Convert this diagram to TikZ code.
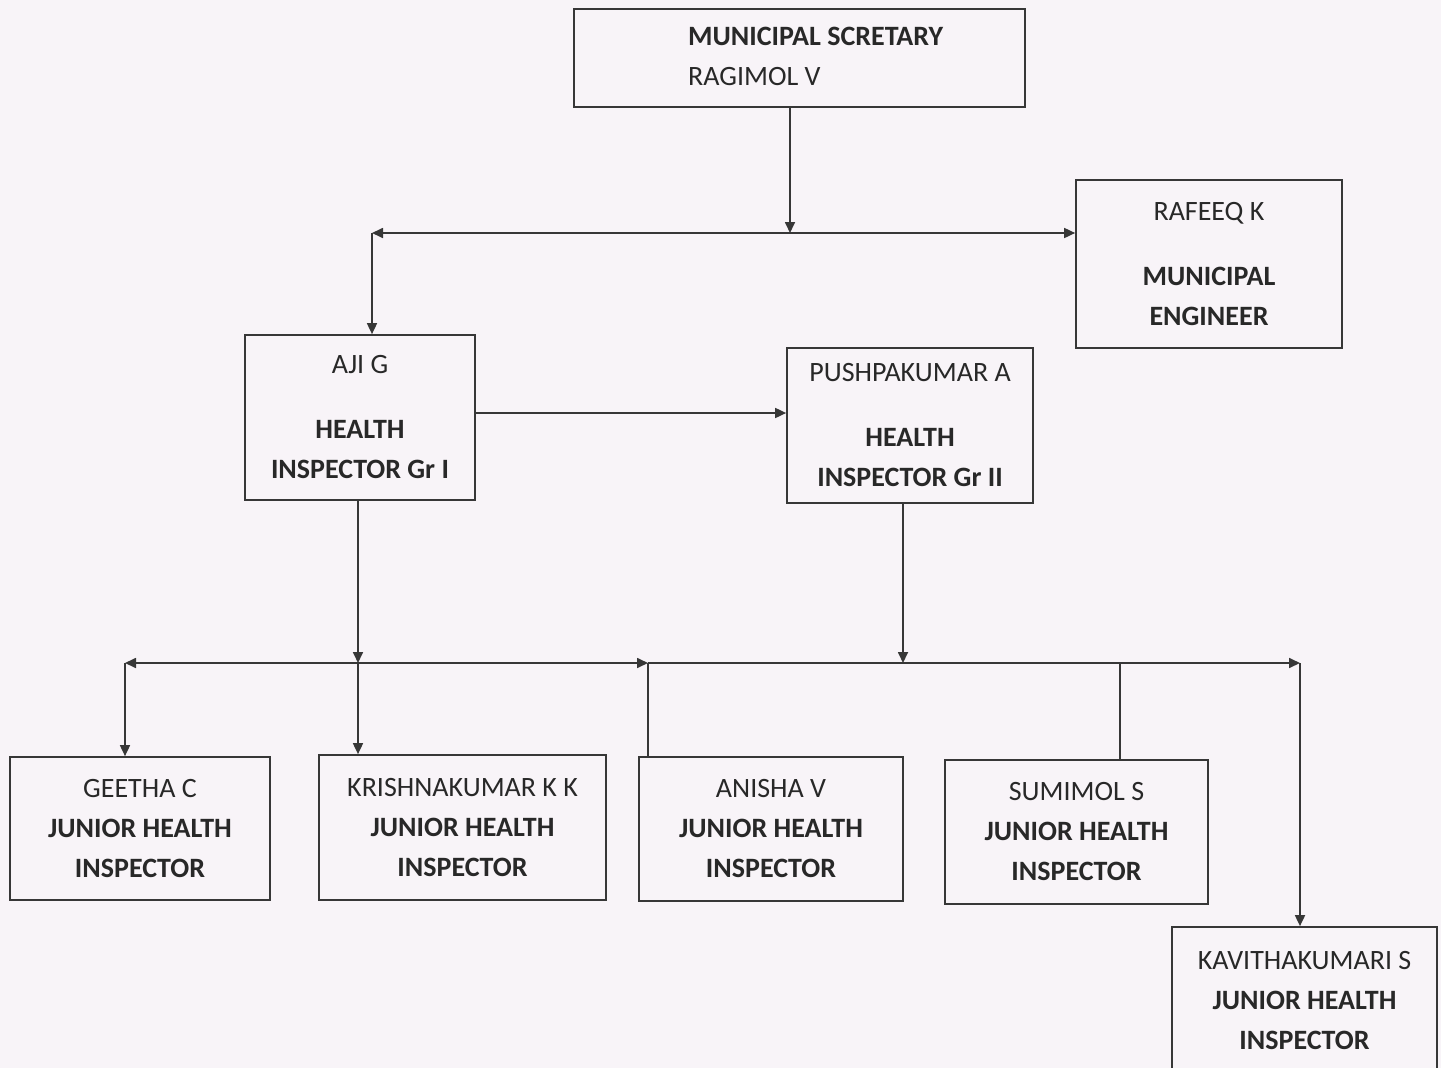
\documentclass[tikz,border=0pt]{standalone}
\usepackage{fontspec}
\setmainfont{Carlito}
\usetikzlibrary{arrows.meta}
\definecolor{bg}{RGB}{248,244,248}
\definecolor{ink}{RGB}{55,55,55}
\definecolor{txt}{RGB}{40,40,40}
\begin{document}
\begin{tikzpicture}[x=1pt,y=-1pt,
  box/.style={draw=ink, line width=1.7pt, align=center, inner sep=0pt, text=txt, font=\fontsize{28}{40}\selectfont},
  lbl/.style={text=txt, align=left, inner sep=0pt, font=\fontsize{28}{40}\selectfont},
  conn/.style={draw=ink, line width=1.7pt},
  arr/.style={conn, -{Triangle[length=11pt,width=10pt]}},
]
\fill[bg] (0,0) rectangle (1441,1068);
\useasboundingbox (0,0) rectangle (1441,1068);

% boxes
\node[box, minimum width=451pt, minimum height=98pt] (sec) at (799.5,58) {};
\node[lbl, anchor=west] (sectxt) at (688,56) {\textbf{MUNICIPAL SCRETARY}\\RAGIMOL V};
\node[box, minimum width=266pt, minimum height=168pt] (raf) at (1209,264) {RAFEEQ K\\[25pt]\textbf{MUNICIPAL}\\\textbf{ENGINEER}};
\node[box, minimum width=230pt, minimum height=165pt] (aji) at (360,417.5) {AJI G\\[25pt]\textbf{HEALTH}\\\textbf{INSPECTOR Gr I}};
\node[box, minimum width=246pt, minimum height=155pt] (push) at (910,425.5) {PUSHPAKUMAR A\\[25pt]\textbf{HEALTH}\\\textbf{INSPECTOR Gr II}};
\node[box, minimum width=260pt, minimum height=143pt] (gee) at (140,828.5) {GEETHA C\\\textbf{JUNIOR HEALTH}\\\textbf{INSPECTOR}};
\node[box, minimum width=287pt, minimum height=145pt] (kk) at (462.5,827.5) {KRISHNAKUMAR K K\\\textbf{JUNIOR HEALTH}\\\textbf{INSPECTOR}};
\node[box, minimum width=264pt, minimum height=144pt] (ani) at (771,829) {ANISHA V\\\textbf{JUNIOR HEALTH}\\\textbf{INSPECTOR}};
\node[box, minimum width=263pt, minimum height=144pt] (sum) at (1076.5,832) {SUMIMOL S\\\textbf{JUNIOR HEALTH}\\\textbf{INSPECTOR}};
\node[box, minimum width=265pt, minimum height=146pt] (kav) at (1304.5,1000) {KAVITHAKUMARI S\\\textbf{JUNIOR HEALTH}\\\textbf{INSPECTOR}};

% junction coordinates
\coordinate (j1) at (790,233);
\coordinate (tl) at (372,233);
\coordinate (hy) at (0,663);
\coordinate (ay) at (0,413);
\coordinate (bl) at (125,663);
\coordinate (bm) at (648,663);
\coordinate (bs) at (1120,663);
\coordinate (br) at (1300,663);
\coordinate (b1) at (358,663);
\coordinate (b2) at (903,663);

% top level
\draw[arr] (sec.south -| j1) -- (j1);
\draw[arr] (j1) -- (tl);
\draw[arr] (tl) -- (tl |- aji.north);
\draw[arr] (j1) -- (j1 -| raf.west);
\draw[arr] (aji.east |- ay) -- (push.west |- ay);

% lower level
\draw[arr] (aji.south -| b1) -- (b1);
\draw[arr] (b1) -- (b1 |- kk.north);
\draw[arr] (b1) -- (bl);
\draw[arr] (bl) -- (bl |- gee.north);
\draw[arr] (b1) -- (bm);
\draw[arr] (bm) -- (br);
\draw[arr] (push.south -| b2) -- (b2);
\draw[conn] (bm) -- (bm |- ani.north);
\draw[conn] (bs) -- (bs |- sum.north);
\draw[arr] (br) -- (br |- kav.north);
\end{tikzpicture}
\end{document}
